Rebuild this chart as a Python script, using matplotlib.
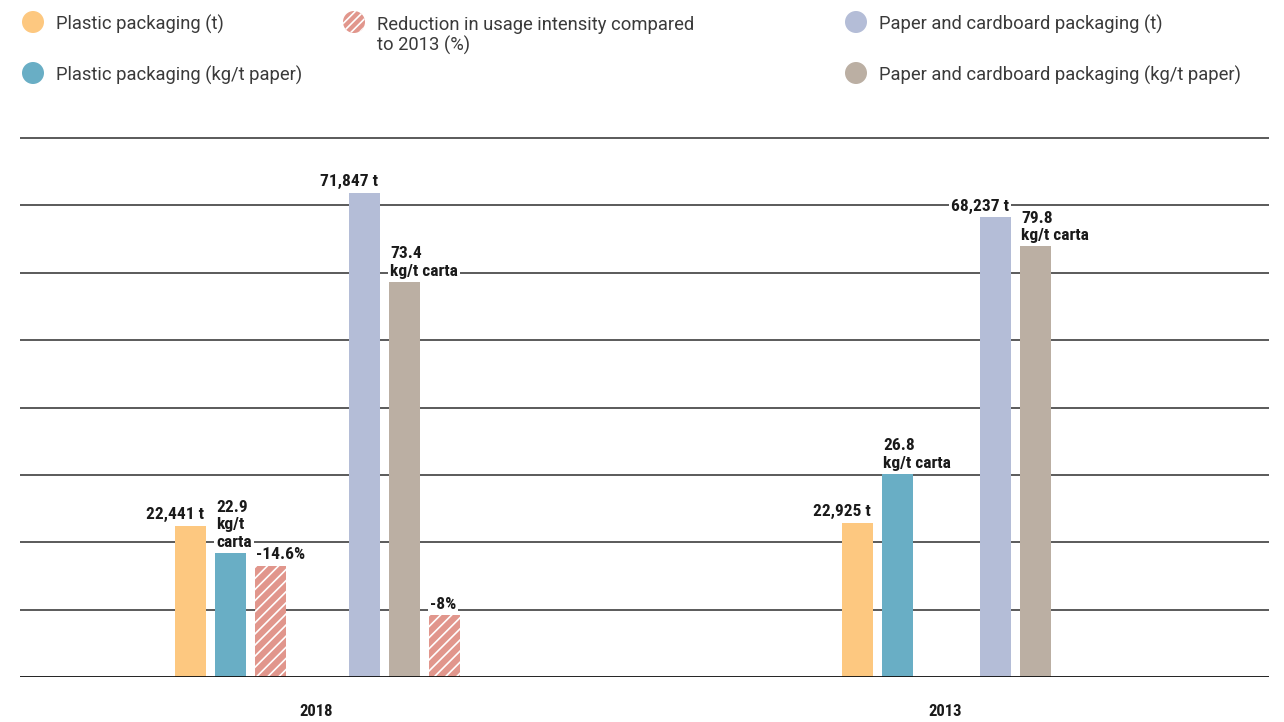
import matplotlib
matplotlib.use("Agg")
import matplotlib.pyplot as plt
from matplotlib.patches import Circle
from matplotlib import font_manager as fm

W, H, DPI = 1284, 722, 100

# ---------------- data ----------------
groups = ["2018", "2013"]
series_names = [
    "Plastic packaging (t)",
    "Plastic packaging (kg/t paper)",
    "Reduction in usage intensity compared\nto 2013 (%)",
    "Paper and cardboard packaging (t)",
    "Paper and cardboard packaging (kg/t paper)",
]
# bar heights as drawn (chart scale: one gridline = 10,000)
plastic_t = [22441, 22925]
plastic_kg = [18400, 30100]
reduction_plastic = [16500, None]
paper_t = [71847, 68237]
paper_kg = [58600, 63900]
reduction_paper = [9200, None]

plastic_t_lbl = ["22,441 t", "22,925 t"]
plastic_kg_lbl = ["22.9\nkg/t\ncarta", "26.8\nkg/t carta"]
reduction_plastic_lbl = ["-14.6%", None]
paper_t_lbl = ["71,847 t", "68,237 t"]
paper_kg_lbl = ["73.4\nkg/t carta", "79.8\nkg/t carta"]
reduction_paper_lbl = ["-8%", None]

# ---------------- style ----------------
C_PT = "#FDC880"
C_PK = "#69AEC5"
C_RED = "#E1968C"
C_PAT = "#B4BDD7"
C_PAK = "#BBAFA3"

def pick(cands):
    names = {f.name for f in fm.fontManager.ttflist}
    for c in cands:
        if c in names:
            return c
    return "DejaVu Sans"

NARROW = pick(["Roboto Condensed", "Liberation Sans Narrow", "Open Sans Condensed", "Roboto"])
LIGHT = pick(["Roboto", "Lato", "Open Sans"])

# pixel layout
X0, X1 = 20, 1269
BASE, TOP = 677, 100
GRID_PX = (677 - 138) / 8.0
UNIT = 10000.0
BW = 31
ymax = UNIT * (BASE - TOP) / GRID_PX

# bar centres (pixels) per series per group
pos_pt = [190.5, 857.5]
pos_pk = [230.5, 897.5]
pos_rp = [270.5, None]
pos_pat = [364.5, 995.5]
pos_pak = [404.5, 1035.5]
pos_rpa = [444.5, None]
group_x = [316, 945]

fig = plt.figure(figsize=(W / DPI, H / DPI), dpi=DPI)
ax = fig.add_axes([X0 / W, (H - BASE) / H, (X1 - X0) / W, (BASE - TOP) / H])
ax.set_xlim(X0, X1)
ax.set_ylim(0, ymax)
ax.axis("off")

for k in range(1, 9):
    ax.axhline(k * UNIT, color="#2e2e2e", lw=1.1, zorder=1)
ax.axhline(0, color="#111111", lw=1.3, zorder=4)

label_font = dict(family=[NARROW, "DejaVu Sans"], fontsize=12.5, fontweight="bold",
                  color="#1a1a1a", linespacing=1.2)
bbox = dict(boxstyle="square,pad=0.12", fc="white", ec="none")

def draw(positions, heights, labels, color, hatch=None, align="left"):
    for x, h, lbl in zip(positions, heights, labels):
        if x is None or h is None:
            continue
        if hatch:
            ax.bar(x, h, width=BW, color=color, edgecolor="white", linewidth=0,
                   hatch=hatch, zorder=3)
        else:
            ax.bar(x, h, width=BW, color=color, linewidth=0, zorder=3)
        if align == "right":
            ax.annotate(lbl, (x + BW / 2 - 2, h), xytext=(0, 2.5), textcoords="offset points",
                        ha="right", va="bottom", bbox=bbox, zorder=5, annotation_clip=False,
                        **label_font)
        else:
            ax.annotate(lbl, (x - BW / 2 + 1, h), xytext=(0, 2.5), textcoords="offset points",
                        ha="left", va="bottom", bbox=bbox, zorder=5, annotation_clip=False,
                        **label_font)

plt.rcParams["hatch.linewidth"] = 1.2
draw(pos_pt, plastic_t, plastic_t_lbl, C_PT, align="right")
draw(pos_pk, plastic_kg, plastic_kg_lbl, C_PK)
draw(pos_rp, reduction_plastic, reduction_plastic_lbl, C_RED, hatch="///")
draw(pos_pat, paper_t, paper_t_lbl, C_PAT, align="right")
draw(pos_pak, paper_kg, paper_kg_lbl, C_PAK)
draw(pos_rpa, reduction_paper, reduction_paper_lbl, C_RED, hatch="///")

for gx, g in zip(group_x, groups):
    ax.text(gx, -(711 - BASE) / GRID_PX * UNIT, g, ha="center", va="center",
            family=[NARROW, "DejaVu Sans"], fontsize=12, fontweight="bold", color="#1a1a1a",
            clip_on=False)

# ---------------- legend (pixel overlay) ----------------
lax = fig.add_axes([0, 0, 1, 1])
lax.set_xlim(0, W)
lax.set_ylim(H, 0)
lax.axis("off")
leg_items = [
    (33, 22, C_PT, None, series_names[0]),
    (33, 73, C_PK, None, series_names[1]),
    (354, 22, C_RED, "////", series_names[2]),
    (856, 22, C_PAT, None, series_names[3]),
    (856, 73, C_PAK, None, series_names[4]),
]
for cx, cy, col, hat, name in leg_items:
    if hat:
        lax.add_patch(Circle((cx, cy), 11, facecolor=col, edgecolor="white", linewidth=0, hatch=hat))
    else:
        lax.add_patch(Circle((cx, cy), 11, facecolor=col, edgecolor="none"))
    lines = name.split("\n")
    for i, line in enumerate(lines):
        lax.text(cx + 23, cy + 7.5 + 21 * i, line, ha="left", va="baseline",
                 family=[LIGHT, "DejaVu Sans"], fontsize=13.2, fontweight="normal",
                 color="#3a3a3a")

fig.savefig("out.png", dpi=DPI)
